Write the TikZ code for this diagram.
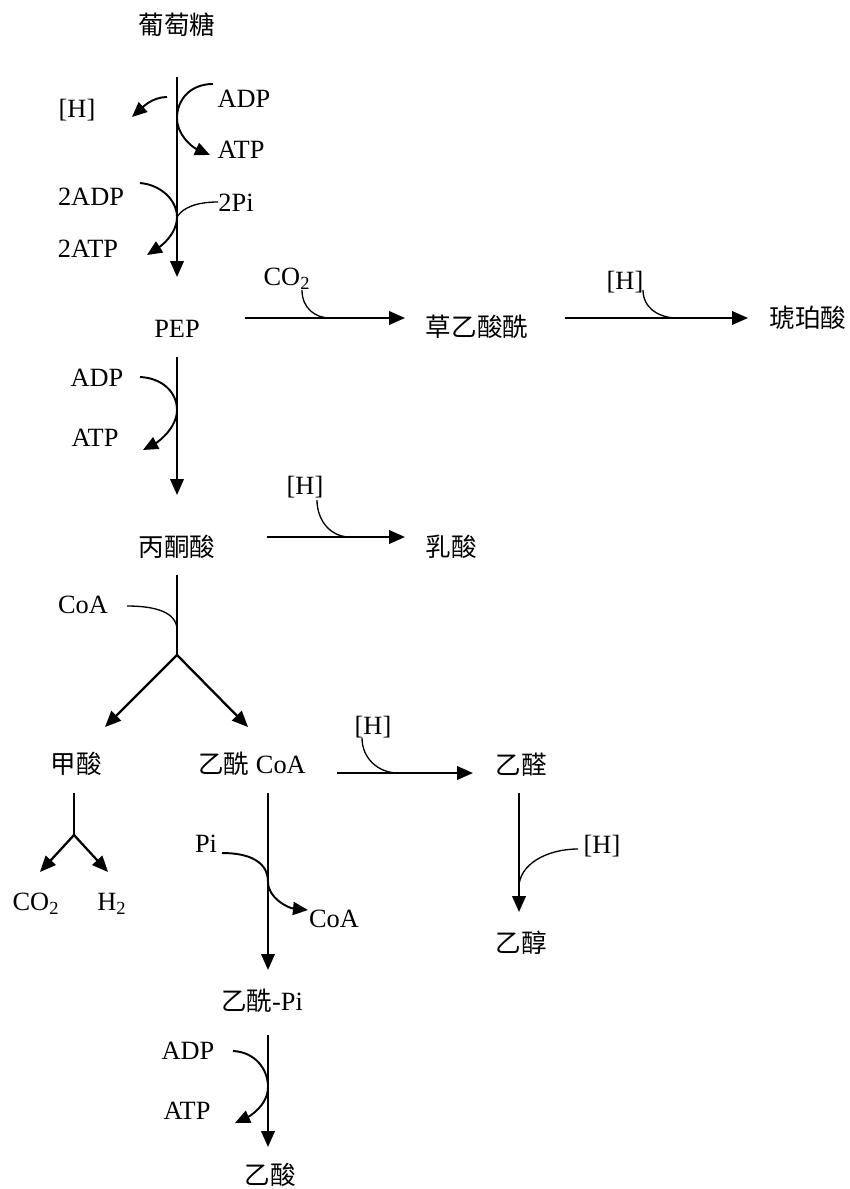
\documentclass[tikz,border=0pt]{standalone}
\usepackage{fontspec}
\setmainfont{Liberation Serif}
\newfontfamily\cjk[Scale=0.97]{Noto Sans CJK SC}
\usetikzlibrary{arrows.meta,calc}

\begin{document}
\begin{tikzpicture}[x=0.02cm, y=-0.02cm, font=\fontsize{15}{17}\selectfont,
    every node/.style={inner sep=0pt},
    rxn/.style={line width=1.3pt, -{Triangle[length=0.32cm,width=0.27cm]}},
    byarc/.style={line width=1.1pt, -{Triangle[length=0.3cm,width=0.26cm]}},
    joinarc/.style={line width=0.75pt}]
    \useasboundingbox (0,0) rectangle (849,1189);

    % Glucose to PEP
    \node (glc) at (177,25) {\cjk 葡萄糖};
    \node (h1) at (77,110) {[H]};
    \node (adp1) at (244,99) {ADP};
    \node (atp1) at (241,150) {ATP};
    \node (adp2) at (91,197) {2ADP};
    \node (atp2) at (88,249) {2ATP};
    \node (pi2) at (236,203) {2Pi};
    \node (pep) at (177,329) {PEP};
    \coordinate (j1) at (177,118);
    \coordinate (j2) at (177,217);
    \draw[rxn] ($(glc)+(0,52)$) -- ($(pep)+(0,-52)$);
    \draw[byarc] ($(h1)+(90,-13)$) .. controls +(-15,0) and +(10,-9) .. ($(h1)+(55,7)$);
    \draw[byarc] ($(adp1)+(-31,-15)$) .. controls +(-23,0) and +(0,-18) .. (j1)
        .. controls +(0,17) and +(-18,-8) .. ($(atp1)+(-31,5)$);
    \draw[byarc] ($(adp2)+(49,-14)$) .. controls +(22,2) and +(0,-16) .. (j2)
        .. controls +(0,17) and +(14,-9) .. ($(atp2)+(59,6)$);
    \draw[joinarc] ($(pi2)+(-18,-1)$) .. controls +(-20,0) and +(6,-10) .. (j2);

    % PEP side branch
    \node (co2a) at (287,279) {CO\textsubscript{2}};
    \node (oaa) at (477,327) {\cjk 草乙酸酰};
    \node (h2) at (625,282) {[H]};
    \node (suc) at (808,318) {\cjk 琥珀酸};
    \coordinate (k1) at (330,318);
    \coordinate (k2) at (677,318);
    \draw[rxn] ($(pep)+(68,-11)$) -- ($(oaa)+(-72,-9)$);
    \draw[rxn] ($(oaa)+(88,-9)$) -- ($(suc)+(-60,0)$);
    \draw[joinarc] ($(co2a)+(15,11)$) .. controls +(0,18) and +(-15,0) .. (k1);
    \draw[joinarc] ($(h2)+(18,8)$) .. controls +(0,18) and +(-18,0) .. (k2);

    % PEP to pyruvate
    \node (adp3) at (97,378) {ADP};
    \node (atp3) at (95,438) {ATP};
    \node (pyr) at (177,547) {\cjk 丙酮酸};
    \node (h3) at (305,487) {[H]};
    \node (lac) at (451,547) {\cjk 乳酸};
    \coordinate (j4) at (177,410);
    \coordinate (k3) at (350,537);
    \draw[rxn] ($(pep)+(0,28)$) -- ($(pyr)+(0,-52)$);
    \draw[byarc] ($(adp3)+(43,-1)$) .. controls +(22,1) and +(0,-18) .. (j4)
        .. controls +(0,18) and +(15,-8) .. ($(atp3)+(48,12)$);
    \draw[rxn] ($(pyr)+(90,-10)$) -- ($(lac)+(-46,-10)$);
    \draw[joinarc] ($(h3)+(12,13)$) .. controls +(0,20) and +(-20,0) .. (k3);

    % Pyruvate split
    \node (coa1) at (83,605) {CoA};
    \node (fa) at (76,764) {\cjk 甲酸};
    \node (accoa) at (252,764) {{\cjk 乙酰} CoA};
    \coordinate (j5) at (177,630);
    \coordinate (br1) at (177,655);
    \draw[line width=1.3pt] ($(pyr)+(0,28)$) -- (br1);
    \draw[joinarc] ($(coa1)+(44,1)$) .. controls +(28,0) and +(0,-18) .. (j5);
    \draw[rxn] (br1) -- ($(fa)+(29,-37)$);
    \draw[rxn] (br1) -- ($(accoa)+(-4,-37)$);

    % Formate
    \node (co2b) at (36,904) {CO\textsubscript{2}};
    \node (hh) at (112,904) {H\textsubscript{2}};
    \coordinate (br2) at (74,835);
    \draw[line width=1.3pt] ($(fa)+(-2,29)$) -- (br2);
    \draw[rxn] (br2) -- ($(co2b)+(4,-32)$);
    \draw[rxn] (br2) -- ($(hh)+(-4,-32)$);

    % Acetaldehyde and ethanol
    \node (h4) at (373,727) {[H]};
    \node (ald) at (521,765) {\cjk 乙醛};
    \node (h5) at (602,846) {[H]};
    \node (eth) at (521,943) {\cjk 乙醇};
    \coordinate (k4) at (398,773);
    \coordinate (j7) at (519,887);
    \draw[rxn] ($(accoa)+(85,9)$) -- ($(ald)+(-48,8)$);
    \draw[joinarc] ($(h4)+(-11,11)$) .. controls +(0,20) and +(-20,0) .. (k4);
    \draw[rxn] ($(ald)+(-2,28)$) -- ($(eth)+(-2,-31)$);
    \draw[joinarc] ($(h5)+(-24,3)$) .. controls +(-32,0) and +(0,-22) .. (j7);

    % Acetyl CoA to acetate
    \node (pi1) at (206,844) {Pi};
    \node (coa2) at (334,919) {CoA};
    \node (acp) at (262,1001) {{\cjk 乙酰}-Pi};
    \node (adp4) at (188,1051) {ADP};
    \node (atp4) at (187,1111) {ATP};
    \node (ace) at (270,1175) {\cjk 乙酸};
    \coordinate (j6) at (268,882);
    \coordinate (j8) at (268,1087);
    \draw[rxn] ($(accoa)+(16,29)$) -- ($(acp)+(6,-31)$);
    \draw[byarc] ($(pi1)+(16,9)$) .. controls +(28,0) and +(0,-20) .. (j6)
        .. controls +(0,16) and +(-20,-2) .. ($(coa2)+(-26,-9)$);
    \draw[rxn] ($(acp)+(6,34)$) -- ($(ace)+(-2,-28)$);
    \draw[byarc] ($(adp4)+(45,0)$) .. controls +(22,1) and +(0,-18) .. (j8)
        .. controls +(0,18) and +(15,-7) .. ($(atp4)+(48,12)$);
  \end{tikzpicture}
\end{document}
